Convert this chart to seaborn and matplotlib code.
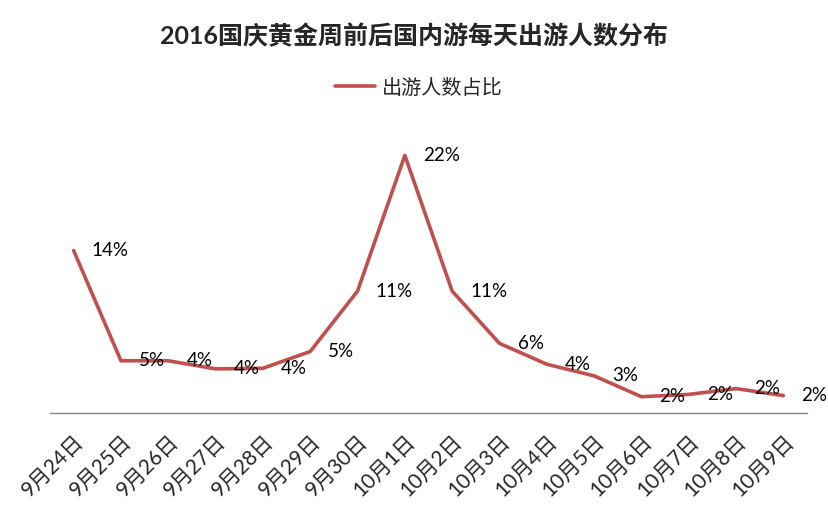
import seaborn as sns
import pandas as pd
import matplotlib.pyplot as plt

# Data (percent of travellers per day)
dates = ['9月24日', '9月25日', '9月26日', '9月27日', '9月28日', '9月29日', '9月30日',
         '10月1日', '10月2日', '10月3日', '10月4日', '10月5日', '10月6日', '10月7日',
         '10月8日', '10月9日']
share = [14.0, 4.5, 4.5, 3.8, 3.85, 5.3, 10.5, 22.2, 10.5, 6.0, 4.2, 3.2, 1.4, 1.6, 2.1, 1.5]
share_labels = ['14%', '5%', '4%', '4%', '4%', '5%', '11%', '22%', '11%', '6%', '4%', '3%',
                '2%', '2%', '2%', '2%']

df = pd.DataFrame({'date': dates, 'share': share})
df['pos'] = range(len(df))

sns.set_style('white')
plt.rcParams['font.family'] = ['Lato', 'Noto Sans CJK SC', 'DejaVu Sans']

fig = plt.figure(figsize=(8.29, 5.12), dpi=100)
ax = fig.add_axes([0.0603, 0.1934, 0.9132, 0.5666])

sns.lineplot(data=df, x='pos', y='share', color='#C0504D', linewidth=2.6,
             label='出游人数占比', ax=ax)

# Value labels to the right of each point
for x, y, txt in zip(df['pos'], df['share'], share_labels):
    ax.annotate(txt, (x, y), xytext=(13, 0), textcoords='offset points',
                ha='left', va='center', fontsize=13.5, color='black')

ax.set_xlim(-0.5, len(dates) - 0.5)
ax.set_ylim(0, 25)
ax.set_xticks(df['pos'])
ax.set_xticklabels(dates, rotation=45, ha='right', rotation_mode='anchor', fontsize=15)
ax.tick_params(axis='x', length=0, pad=13)
ax.set_yticks([])
ax.set_xlabel('')
ax.set_ylabel('')

for side in ['top', 'left', 'right']:
    ax.spines[side].set_visible(False)
ax.spines['bottom'].set_color('#888888')
ax.spines['bottom'].set_linewidth(1.0)

# Legend above the plot
ax.legend_.remove()
handles, labels = ax.get_legend_handles_labels()
fig.legend(handles, labels, loc='center', bbox_to_anchor=(0.505, 0.83),
           frameon=False, fontsize=14.5, handlelength=2.0, handletextpad=0.3)

fig.text(0.5, 0.93, '2016国庆黄金周前后国内游每天出游人数分布', ha='center', va='center',
         fontsize=18, fontweight='bold')

fig.savefig('out.png', dpi=100)
